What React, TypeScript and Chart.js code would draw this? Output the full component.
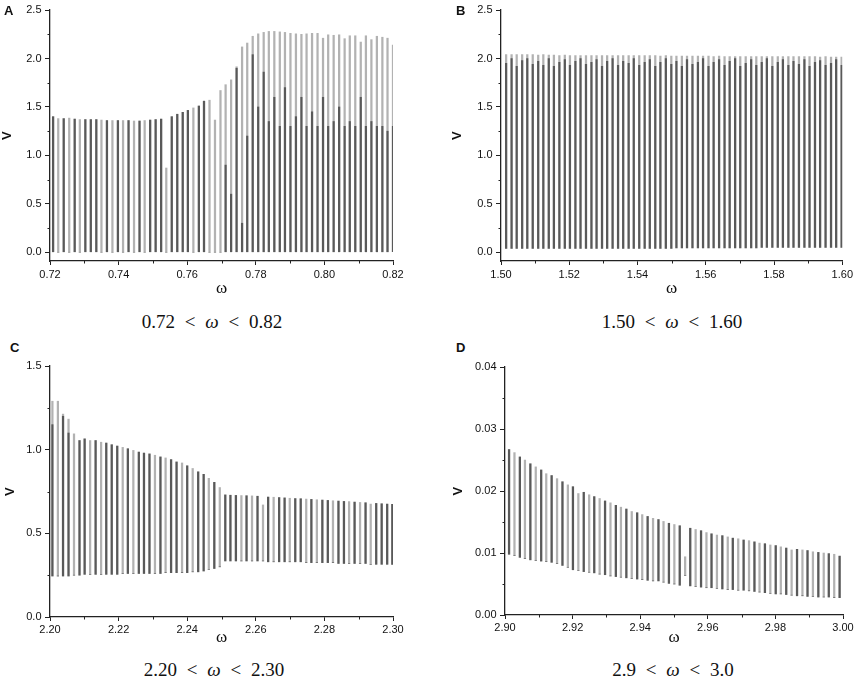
import React, { useEffect, useRef } from "react";
import { Chart, registerables } from "chart.js";

Chart.register(...registerables);

// ---------- Panel A : 0.72 < ω < 0.82 ----------
const omegaA = [
  0.7209, 0.7224, 0.724, 0.7256, 0.7272, 0.7287, 0.7303, 0.7319,
  0.7335, 0.735, 0.7366, 0.7382, 0.7398, 0.7413, 0.7429, 0.7445,
  0.7461, 0.7476, 0.7492, 0.7508, 0.7524, 0.7539, 0.7555, 0.7571,
  0.7587, 0.7602, 0.7618, 0.7634, 0.7649, 0.7665, 0.7681, 0.7697,
  0.7712, 0.7728, 0.7744, 0.776, 0.7775, 0.7791, 0.7807, 0.7823,
  0.7838, 0.7854, 0.787, 0.7885, 0.7901, 0.7917, 0.7933, 0.7948,
  0.7964, 0.798, 0.7996, 0.8011, 0.8027, 0.8043, 0.8059, 0.8074,
  0.809, 0.8106, 0.8121, 0.8137, 0.8153, 0.8169, 0.8184, 0.82,
];
const vMinA = [
  0, 0, 0, 0, 0, 0, 0, 0, 0, 0, 0, 0, 0, 0, 0, 0,
  0, 0, 0, 0, 0, 0, 0, 0, 0, 0, 0, 0, 0, 0, 0, 0,
  0, 0, 0, 0, 0, 0, 0, 0, 0, 0, 0, 0, 0, 0, 0, 0,
  0, 0, 0, 0, 0, 0, 0, 0, 0, 0, 0, 0, 0, 0, 0, 0,
];
const vMaxA = [
  1.4, 1.38, 1.38, 1.385, 1.375, 1.37, 1.37, 1.37,
  1.37, 1.365, 1.36, 1.36, 1.36, 1.36, 1.36, 1.355,
  1.355, 1.36, 1.365, 1.37, 1.375, 0.87, 1.4, 1.425,
  1.445, 1.465, 1.49, 1.51, 1.56, 1.57, 1.365, 1.67,
  1.73, 1.78, 1.915, 2.12, 2.16, 2.23, 2.255, 2.27,
  2.28, 2.28, 2.275, 2.27, 2.26, 2.255, 2.25, 2.255,
  2.26, 2.26, 2.21, 2.245, 2.24, 2.245, 2.205, 2.235,
  2.235, 2.17, 2.235, 2.195, 2.23, 2.22, 2.21, 2.14,
];
const vDenseA = [
  1.4, 0, 1.38, 0, 1.375, 0, 1.37, 1.37,
  1.37, 0, 1.36, 0, 1.36, 0, 1.36, 0,
  1.355, 0, 1.365, 1.37, 1.375, 0, 1.4, 1.425,
  1.445, 1.465, 0, 1.51, 1.56, 0, 0, 0,
  0.9, 0.6, 1.9, 0.3, 1.2, 2.04, 1.5, 1.86,
  1.35, 1.6, 1.3, 1.7, 1.3, 1.4, 1.6, 1.3,
  1.45, 1.3, 1.6, 1.3, 1.35, 1.5, 1.3, 1.35,
  1.3, 1.6, 1.3, 1.35, 1.3, 1.3, 1.25, 1.3,
];
const xTicksA = [0.72, 0.74, 0.76, 0.78, 0.8, 0.82];
const yTicksA = [0, 0.5, 1.0, 1.5, 2.0, 2.5];

// ---------- Panel B : 1.50 < ω < 1.60 ----------
const omegaB = [
  1.5015, 1.5031, 1.5046, 1.5062, 1.5077, 1.5093, 1.5109, 1.5124,
  1.514, 1.5155, 1.5171, 1.5187, 1.5202, 1.5218, 1.5233, 1.5249,
  1.5265, 1.528, 1.5296, 1.5311, 1.5327, 1.5343, 1.5358, 1.5374,
  1.5389, 1.5405, 1.5421, 1.5436, 1.5452, 1.5467, 1.5483, 1.5499,
  1.5514, 1.553, 1.5545, 1.5561, 1.5577, 1.5592, 1.5608, 1.5623,
  1.5639, 1.5655, 1.567, 1.5686, 1.5701, 1.5717, 1.5733, 1.5748,
  1.5764, 1.5779, 1.5795, 1.5811, 1.5826, 1.5842, 1.5857, 1.5873,
  1.5889, 1.5904, 1.592, 1.5935, 1.5951, 1.5967, 1.5982, 1.5998,
];
const vMinB = [
  0.04, 0.04, 0.04, 0.04, 0.04, 0.04, 0.04, 0.04,
  0.04, 0.04, 0.04, 0.04, 0.04, 0.04, 0.04, 0.04,
  0.04, 0.04, 0.04, 0.04, 0.04, 0.04, 0.04, 0.04,
  0.04, 0.04, 0.04, 0.04, 0.04, 0.04, 0.04, 0.04,
  0.045, 0.045, 0.045, 0.045, 0.045, 0.045, 0.045, 0.045,
  0.045, 0.045, 0.045, 0.045, 0.045, 0.045, 0.045, 0.045,
  0.05, 0.05, 0.05, 0.05, 0.05, 0.05, 0.05, 0.05,
  0.05, 0.05, 0.05, 0.05, 0.05, 0.05, 0.05, 0.05,
];
const vMaxB = [
  2.04, 2.04, 2.04, 2.04, 2.04, 2.04, 2.035, 2.04,
  2.035, 2.035, 2.03, 2.035, 2.03, 2.03, 2.03, 2.03,
  2.03, 2.03, 2.03, 2.03, 2.03, 2.03, 2.03, 2.03,
  2.03, 2.03, 2.03, 2.03, 2.03, 2.025, 2.03, 2.025,
  2.025, 2.025, 2.025, 2.025, 2.025, 2.025, 2.025, 2.02,
  2.025, 2.02, 2.02, 2.02, 2.02, 2.02, 2.02, 2.02,
  2.02, 2.02, 2.02, 2.02, 2.02, 2.02, 2.02, 2.02,
  2.02, 2.02, 2.02, 2.015, 2.02, 2.015, 2.015, 2.015,
];
const vDenseB = [
  1.95, 2.0, 1.92, 1.98, 2.0, 1.94, 1.97, 1.93,
  2.0, 1.92, 1.96, 1.99, 1.93, 1.97, 2.0, 1.94,
  1.96, 1.99, 1.92, 1.97, 2.0, 1.93, 1.97, 1.95,
  2.0, 1.93, 1.96, 1.99, 1.92, 1.96, 2.0, 1.94,
  1.97, 1.92, 1.99, 1.94, 1.96, 2.0, 1.92, 1.96,
  1.99, 1.93, 1.97, 2.0, 1.92, 1.95, 1.99, 1.93,
  1.96, 2.0, 1.92, 1.96, 1.99, 1.93, 1.97, 1.94,
  1.99, 1.92, 1.96, 1.98, 1.93, 1.95, 1.99, 1.93,
];
const xTicksB = [1.5, 1.52, 1.54, 1.56, 1.58, 1.6];
const yTicksB = [0, 0.5, 1.0, 1.5, 2.0, 2.5];

// ---------- Panel C : 2.20 < ω < 2.30 ----------
const omegaC = [
  2.2007, 2.2023, 2.2038, 2.2054, 2.207, 2.2086, 2.2101, 2.2117,
  2.2133, 2.2149, 2.2164, 2.218, 2.2196, 2.2212, 2.2227, 2.2243,
  2.2259, 2.2274, 2.229, 2.2306, 2.2322, 2.2337, 2.2353, 2.2369,
  2.2385, 2.24, 2.2416, 2.2432, 2.2448, 2.2463, 2.2479, 2.2495,
  2.2511, 2.2526, 2.2542, 2.2558, 2.2573, 2.2589, 2.2605, 2.2621,
  2.2636, 2.2652, 2.2668, 2.2684, 2.2699, 2.2715, 2.2731, 2.2747,
  2.2762, 2.2778, 2.2794, 2.281, 2.2825, 2.2841, 2.2857, 2.2872,
  2.2888, 2.2904, 2.292, 2.2935, 2.2951, 2.2967, 2.2983, 2.2998,
];
const vMinC = [
  0.245, 0.245, 0.245, 0.245, 0.25, 0.25, 0.255, 0.255,
  0.255, 0.255, 0.255, 0.255, 0.255, 0.26, 0.26, 0.26,
  0.26, 0.26, 0.26, 0.26, 0.26, 0.265, 0.265, 0.265,
  0.265, 0.265, 0.27, 0.27, 0.275, 0.285, 0.29, 0.3,
  0.335, 0.335, 0.335, 0.335, 0.335, 0.335, 0.335, 0.335,
  0.33, 0.33, 0.33, 0.33, 0.33, 0.33, 0.33, 0.325,
  0.325, 0.325, 0.325, 0.325, 0.325, 0.32, 0.32, 0.32,
  0.32, 0.32, 0.32, 0.315, 0.315, 0.315, 0.315, 0.315,
];
const vMaxC = [
  1.29, 1.29, 1.213, 1.183, 1.095, 1.055, 1.065, 1.055,
  1.055, 1.045, 1.04, 1.03, 1.022, 1.014, 1.006, 0.996,
  0.986, 0.98, 0.975, 0.967, 0.957, 0.951, 0.941, 0.927,
  0.921, 0.904, 0.888, 0.868, 0.853, 0.829, 0.805, 0.774,
  0.73, 0.728, 0.727, 0.726, 0.725, 0.724, 0.722, 0.67,
  0.717, 0.716, 0.714, 0.712, 0.71, 0.708, 0.707, 0.705,
  0.703, 0.701, 0.699, 0.697, 0.695, 0.693, 0.691, 0.69,
  0.687, 0.685, 0.683, 0.675, 0.679, 0.677, 0.675, 0.673,
];
const vDenseC = [
  1.15, 0.245, 1.2, 1.1, 0.25, 1.055, 1.065, 0.255,
  1.055, 0.255, 1.04, 1.03, 1.022, 0.26, 1.006, 0.26,
  0.986, 0.98, 0.975, 0.26, 0.957, 0.265, 0.941, 0.927,
  0.265, 0.904, 0.27, 0.868, 0.853, 0.285, 0.805, 0.3,
  0.73, 0.728, 0.727, 0.335, 0.725, 0.335, 0.722, 0.335,
  0.717, 0.33, 0.714, 0.712, 0.33, 0.708, 0.707, 0.325,
  0.703, 0.325, 0.699, 0.697, 0.325, 0.693, 0.691, 0.32,
  0.687, 0.32, 0.683, 0.315, 0.679, 0.677, 0.675, 0.673,
];
const xTicksC = [2.2, 2.22, 2.24, 2.26, 2.28, 2.3];
const yTicksC = [0, 0.5, 1.0, 1.5];

// ---------- Panel D : 2.9 < ω < 3.0 ----------
const omegaD = [
  2.9012, 2.9028, 2.9044, 2.9059, 2.9075, 2.9091, 2.9107, 2.9122,
  2.9138, 2.9154, 2.917, 2.9186, 2.9201, 2.9217, 2.9233, 2.9249,
  2.9264, 2.928, 2.9296, 2.9312, 2.9328, 2.9343, 2.9359, 2.9375,
  2.9391, 2.9406, 2.9422, 2.9438, 2.9454, 2.9469, 2.9485, 2.9501,
  2.9517, 2.9533, 2.9548, 2.9564, 2.958, 2.9596, 2.9611, 2.9627,
  2.9643, 2.9659, 2.9674, 2.969, 2.9706, 2.9722, 2.9738, 2.9753,
  2.9769, 2.9785, 2.9801, 2.9816, 2.9832, 2.9848, 2.9864, 2.988,
  2.9895, 2.9911, 2.9927, 2.9943, 2.9958, 2.9974, 2.999,
];
const vMinD = [
  0.0098, 0.0096, 0.0093, 0.0091, 0.0089, 0.0088, 0.0087, 0.0086,
  0.0085, 0.0083, 0.008, 0.0077, 0.0073, 0.0072, 0.007, 0.0069,
  0.0068, 0.0066, 0.0065, 0.0063, 0.0062, 0.0061, 0.006, 0.0059,
  0.0058, 0.0057, 0.0056, 0.0055, 0.0055, 0.0053, 0.0051, 0.005,
  0.0048, 0.0064, 0.0047, 0.0046, 0.0045, 0.0044, 0.0044, 0.0043,
  0.0042, 0.0041, 0.0041, 0.004, 0.004, 0.0039, 0.0038, 0.0037,
  0.0036, 0.0035, 0.0034, 0.0034, 0.0033, 0.0032, 0.0031, 0.0031,
  0.003, 0.003, 0.0029, 0.0029, 0.0029, 0.0028, 0.0028,
];
const vMaxD = [
  0.0267, 0.0262, 0.0255, 0.025, 0.0244, 0.0239, 0.0234, 0.0228,
  0.0225, 0.022, 0.0215, 0.021, 0.0207, 0.0196, 0.0198, 0.0194,
  0.0191, 0.0188, 0.0184, 0.0181, 0.0177, 0.0174, 0.0171, 0.0167,
  0.0165, 0.0162, 0.0159, 0.0156, 0.0154, 0.0151, 0.0148, 0.0146,
  0.0144, 0.0094, 0.014, 0.0138, 0.0136, 0.0133, 0.0131, 0.0129,
  0.0128, 0.0126, 0.0124, 0.0123, 0.0121, 0.012, 0.0118, 0.0116,
  0.0115, 0.0113, 0.0112, 0.011, 0.0108, 0.0105, 0.0106, 0.0105,
  0.0104, 0.0102, 0.0101, 0.01, 0.0099, 0.0098, 0.0095,
];
const vDenseD = [
  0.0267, 0.0096, 0.0255, 0.0091, 0.0244, 0.0088, 0.0234, 0.0086,
  0.0225, 0.0083, 0.0215, 0.0077, 0.0207, 0.0072, 0.0198, 0.0069,
  0.0191, 0.0066, 0.0184, 0.0063, 0.0177, 0.0061, 0.0171, 0.0059,
  0.0165, 0.0057, 0.0159, 0.0055, 0.0154, 0.0053, 0.0148, 0.005,
  0.0144, 0.0064, 0.014, 0.0046, 0.0136, 0.0044, 0.0131, 0.0043,
  0.0128, 0.0041, 0.0124, 0.004, 0.0121, 0.0039, 0.0118, 0.0037,
  0.0115, 0.0035, 0.0112, 0.0034, 0.0108, 0.0032, 0.0106, 0.0031,
  0.0104, 0.003, 0.0101, 0.0029, 0.0099, 0.0028, 0.0095,
];
const xTicksD = [2.9, 2.92, 2.94, 2.96, 2.98, 3.0];
const yTicksD = [0, 0.01, 0.02, 0.03, 0.04];

const panelLetters = ["A", "B", "C", "D"];
const captionRanges = [
  ["0.72", "0.82"],
  ["1.50", "1.60"],
  ["2.20", "2.30"],
  ["2.9", "3.0"],
];

const minorTickPlugin = {
  id: "minorTicks",
  afterDraw(chart: any, _args: any, opts: any) {
    const ctx = chart.ctx;
    const xs = chart.scales.x;
    const ys = chart.scales.y;
    ctx.save();
    ctx.strokeStyle = "#222";
    ctx.lineWidth = 1;
    ctx.beginPath();
    (opts.x || []).forEach((v: number) => {
      const px = Math.round(xs.getPixelForValue(v)) + 0.5;
      ctx.moveTo(px, xs.top);
      ctx.lineTo(px, xs.top + 2.5);
    });
    (opts.y || []).forEach((v: number) => {
      const py = Math.round(ys.getPixelForValue(v)) + 0.5;
      ctx.moveTo(ys.right, py);
      ctx.lineTo(ys.right - 2.5, py);
    });
    ctx.stroke();
    ctx.restore();
  },
};

function mids(arr: number[]) {
  const out: number[] = [];
  for (let i = 0; i < arr.length - 1; i++) out.push((arr[i] + arr[i + 1]) / 2);
  return out;
}

type PanelProps = {
  left: number;
  top: number;
  width: number;
  height: number;
  pad: { top: number; right: number; bottom: number; left: number };
  yWidth: number;
  xHeight: number;
  xLabelPad: number;
  omega: number[];
  lo: number[];
  hi: number[];
  dense: number[];
  xMin: number;
  xMax: number;
  yMin: number;
  yMax: number;
  xTicks: number[];
  yTicks: number[];
  xDec: number;
  yDec: number;
};

function Panel(p: PanelProps) {
  const ref = useRef<HTMLCanvasElement | null>(null);
  useEffect(() => {
    if (!ref.current) return;
    const tickFont = { family: "'Liberation Sans', Arial, sans-serif", size: 11 };
    const chart = new Chart(ref.current, {
      type: "bar",
      data: {
        datasets: [
          {
            data: p.omega.map((w, i) => ({ x: w, y: [p.lo[i], p.dense[i]] })) as any,
            backgroundColor: "rgba(0,0,0,0.5)",
            borderWidth: 0,
            barThickness: 1.6,
            grouped: false,
          } as any,
          {
            data: p.omega.map((w, i) => ({ x: w, y: [p.lo[i], p.hi[i]] })) as any,
            backgroundColor: "rgba(0,0,0,0.3)",
            borderWidth: 0,
            barThickness: 1.6,
            grouped: false,
          } as any,
        ],
      },
      options: {
        animation: false,
        responsive: true,
        maintainAspectRatio: false,
        layout: { padding: p.pad },
        plugins: {
          legend: { display: false },
          tooltip: { enabled: false },
          minorTicks: { x: mids(p.xTicks), y: mids(p.yTicks) },
        } as any,
        scales: {
          x: {
            type: "linear",
            min: p.xMin,
            max: p.xMax,
            bounds: "data",
            offset: false,
            afterBuildTicks: (s: any) => {
              s.ticks = p.xTicks.map((v) => ({ value: v }));
            },
            afterFit: (s: any) => {
              s.height = p.xHeight;
            },
            ticks: {
              callback: (v: any) => Number(v).toFixed(p.xDec),
              font: tickFont,
              color: "#111",
              padding: p.xLabelPad,
              maxRotation: 0,
              autoSkip: false,
            },
            grid: {
              display: true,
              drawOnChartArea: false,
              offset: false,
              tickLength: 4,
              tickWidth: 1,
              tickColor: "#222",
            },
            border: { display: true, color: "#222", width: 1.3 },
            title: {
              display: true,
              text: "ω",
              font: { family: "'Liberation Serif', serif", size: 17 },
              color: "#111",
              padding: 0,
            },
          } as any,
          y: {
            type: "linear",
            min: p.yMin,
            max: p.yMax,
            bounds: "data",
            afterBuildTicks: (s: any) => {
              s.ticks = p.yTicks.map((v) => ({ value: v }));
            },
            afterFit: (s: any) => {
              s.width = p.yWidth;
            },
            ticks: {
              callback: (v: any) => Number(v).toFixed(p.yDec),
              font: tickFont,
              color: "#111",
              padding: 3.5,
              autoSkip: false,
            },
            grid: {
              display: true,
              drawOnChartArea: false,
              tickLength: 5,
              tickWidth: 1,
              tickColor: "#222",
            },
            border: { display: true, color: "#222", width: 1.3 },
            title: {
              display: true,
              text: "V",
              font: { family: "'Liberation Sans', Arial, sans-serif", size: 13, weight: "bold" },
              color: "#111",
              padding: 0,
            },
          } as any,
        },
      },
      plugins: [minorTickPlugin as any],
    });
    return () => chart.destroy();
  }, []);
  return (
    <div style={{ position: "absolute", left: p.left, top: p.top, width: p.width, height: p.height }}>
      <canvas ref={ref} />
    </div>
  );
}

function Letter({ text, left, top }: { text: string; left: number; top: number }) {
  return (
    <div
      style={{
        position: "absolute",
        left,
        top,
        font: "bold 13px 'Liberation Sans', Arial, sans-serif",
        lineHeight: "13px",
        color: "#111",
      }}
    >
      {text}
    </div>
  );
}

function Caption({ range, cx, cy }: { range: string[]; cx: number; cy: number }) {
  return (
    <div
      style={{
        position: "absolute",
        left: cx - 150,
        top: cy - 12,
        width: 300,
        textAlign: "center",
        font: "19px 'Liberation Serif', serif",
        lineHeight: "24px",
        wordSpacing: "5px",
        color: "#111",
        whiteSpace: "nowrap",
      }}
    >
      <span>{range[0]}</span>
      {" < "}
      <i>ω</i>
      {" < "}
      <span>{range[1]}</span>
    </div>
  );
}

export default function App() {
  return (
    <div
      style={{
        position: "absolute",
        left: 0,
        top: 0,
        width: 856,
        height: 697,
        background: "#fff",
        overflow: "hidden",
      }}
    >
      <Panel
        left={0}
        top={0}
        width={420}
        height={300}
        pad={{ top: 7, right: 27, bottom: 1, left: 0 }}
        yWidth={50}
        xHeight={38}
        xLabelPad={3}
        omega={omegaA}
        lo={vMinA}
        hi={vMaxA}
        dense={vDenseA}
        xMin={0.72}
        xMax={0.82}
        yMin={-0.09}
        yMax={2.5}
        xTicks={xTicksA}
        yTicks={yTicksA}
        xDec={2}
        yDec={1}
      />
      <Panel
        left={450}
        top={0}
        width={406}
        height={300}
        pad={{ top: 7, right: 13, bottom: 1, left: 0 }}
        yWidth={51}
        xHeight={38}
        xLabelPad={3}
        omega={omegaB}
        lo={vMinB}
        hi={vMaxB}
        dense={vDenseB}
        xMin={1.5}
        xMax={1.6}
        yMin={-0.09}
        yMax={2.5}
        xTicks={xTicksB}
        yTicks={yTicksB}
        xDec={2}
        yDec={1}
      />
      <Panel
        left={3}
        top={356}
        width={417}
        height={292}
        pad={{ top: 7, right: 27, bottom: 0, left: 0 }}
        yWidth={47}
        xHeight={31}
        xLabelPad={2}
        omega={omegaC}
        lo={vMinC}
        hi={vMaxC}
        dense={vDenseC}
        xMin={2.2}
        xMax={2.3}
        yMin={0}
        yMax={1.5}
        xTicks={xTicksC}
        yTicks={yTicksC}
        xDec={2}
        yDec={1}
      />
      <Panel
        left={451}
        top={357}
        width={405}
        height={291}
        pad={{ top: 7, right: 13, bottom: 0, left: 0 }}
        yWidth={54}
        xHeight={33}
        xLabelPad={2}
        omega={omegaD}
        lo={vMinD}
        hi={vMaxD}
        dense={vDenseD}
        xMin={2.9}
        xMax={3.0}
        yMin={0}
        yMax={0.04}
        xTicks={xTicksD}
        yTicks={yTicksD}
        xDec={2}
        yDec={2}
      />
      <Letter text={panelLetters[0]} left={4} top={4} />
      <Letter text={panelLetters[1]} left={456} top={4} />
      <Letter text={panelLetters[2]} left={10} top={341} />
      <Letter text={panelLetters[3]} left={456} top={341} />
      <Caption range={captionRanges[0]} cx={212} cy={322} />
      <Caption range={captionRanges[1]} cx={672} cy={322} />
      <Caption range={captionRanges[2]} cx={214} cy={670} />
      <Caption range={captionRanges[3]} cx={673} cy={670} />
    </div>
  );
}
